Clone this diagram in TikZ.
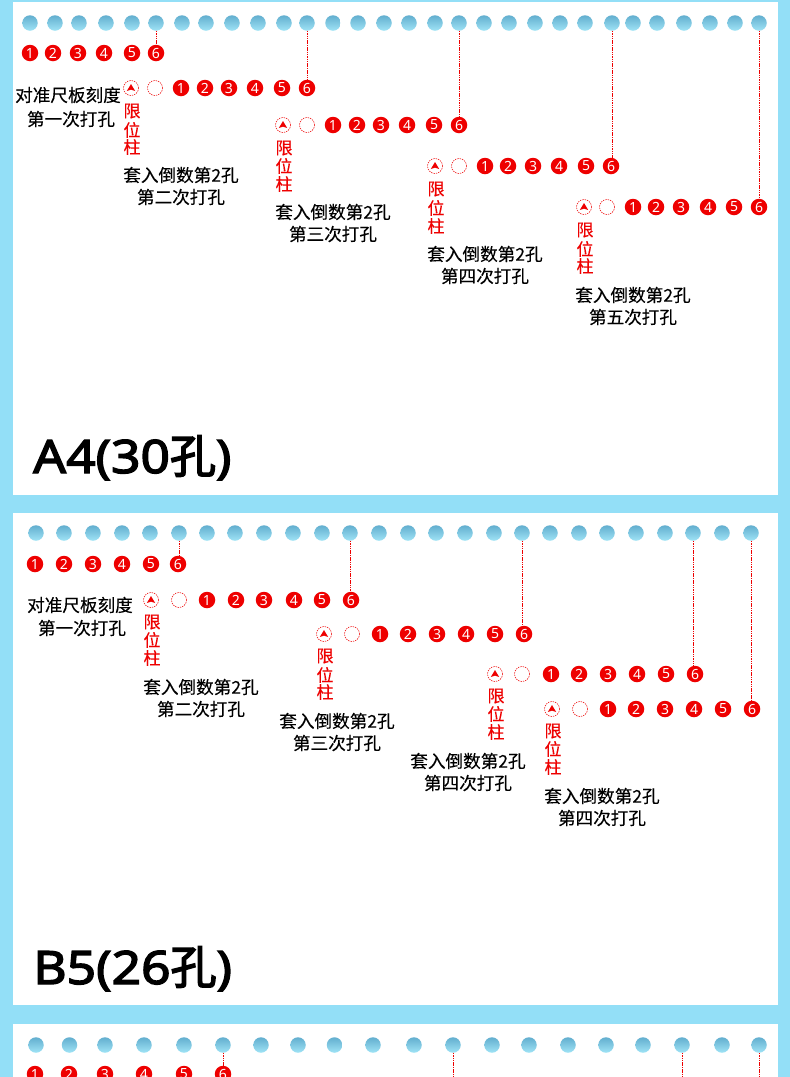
\documentclass[tikz,border=0pt]{standalone}
\usepackage{fontspec}
\setmainfont{Noto Sans CJK SC}
\newfontfamily\numfont{Noto Sans}
\newfontfamily\titlefont[FakeBold=3,FakeStretch=1.12]{Noto Sans}
\newfontfamily\titlecjk[FakeBold=3]{Noto Sans CJK SC}
\newfontfamily\labfont[FakeBold=0.25]{Noto Sans CJK SC}
\definecolor{bgblue}{HTML}{93DFF7}
\definecolor{markred}{HTML}{EE0000}
\definecolor{holetop}{HTML}{62AECF}
\definecolor{holebot}{HTML}{A0E4F6}
\tikzset{
  panel/.style={fill=white,draw=none},
  hole/.style={circle,draw=none,minimum size=15.5pt,inner sep=0pt,top color=holetop,bottom color=holebot},
  numdot/.style={circle,fill=markred,draw=none,minimum size=16.5pt,inner sep=0pt,text=white,font=\numfont\bfseries\fontsize{14}{14}\selectfont},
  ring/.style={circle,draw=markred,dash pattern=on 1.4pt off 1pt,line width=0.55pt,fill=white,minimum size=15pt,inner sep=0pt},
  leader/.style={draw=markred,line width=0.8pt,dash pattern=on 1.5pt off 0.8pt},
  lab/.style={text=black,font=\labfont\fontsize{17.6}{17.6}\selectfont,inner sep=0pt},
  lim/.style={text=markred,font=\labfont\fontsize{17}{17}\selectfont,inner sep=0pt},
  bigt/.style={text=black,font=\titlefont\fontsize{46}{46}\selectfont,inner sep=0pt,anchor=base west}
}
\newcommand{\holerow}[3]{\foreach \hx [count=\hi] in {#3}{\node[hole] (#1-\hi) at (\hx,#2) {};}}
\newcommand{\numrow}[3]{\foreach \nx [count=\ni] in {#3}{\node[numdot] (#1-\ni) at (\nx,#2) {\ni};}}
\newcommand{\markers}[3]{%
  \node[ring] (#1-m) at (#2,#3) {};
  \fill[markred] ([shift={(0,-4)}]#1-m.center) -- ([shift={(4.2,3)}]#1-m.center) -- ([shift={(0,1.6)}]#1-m.center) -- ([shift={(-4.2,3)}]#1-m.center) -- cycle;}
\newcommand{\stepset}[9]{%
  \markers{#1}{#2}{#4}
  \node[ring] (#1-r) at (#3,#4) {};
  \node[lim] (#1-l1) at (#2+1,#5) {限};
  \node[lim] (#1-l2) at (#2+1,#6) {位};
  \node[lim] (#1-l3) at (#2+1,#7) {柱};
  \node[lab] (#1-t1) at (#8,#9) {套入倒数第2孔};}
\newcommand{\leaderto}[2]{\draw[leader] (#1) -- (#1 |- #2.north);}
\begin{document}
\begin{tikzpicture}[x=1pt,y=-1pt]
\useasboundingbox (0,0) rectangle (790,1077);
\fill[bgblue] (0,0) rectangle (790,1077);
\fill[panel] (13,2) rectangle (778,495);
\fill[panel] (13,513) rectangle (778,1005);
\fill[panel] (13,1024) rectangle (778,1077);

% ---------- A4
\holerow{a}{23}{30,55,79,106,132,156,182,206,232,258,284,307,333,358,384,409,435,459,484,509,535,560,585,612,633,657,684,710,735,759}
\numrow{a0}{53}{30,53,78,104,132,156}
\node[lab] (a0t1) at (68,95) {对准尺板刻度};
\node[lab] (a0t2) at (71,119) {第一次打孔};
\stepset{a1}{131}{155}{88}{111}{130}{147}{181}{175}
\numrow{a1}{88}{181,205,229,255,282,307}
\node[lab] (a1t2) at (181,197) {第二次打孔};
\stepset{a2}{283}{307}{125}{148}{166}{184}{333}{212}
\numrow{a2}{125}{333,357,381,407,434,459}
\node[lab] (a2t2) at (333,234) {第三次打孔};
\stepset{a3}{435}{459}{166}{189}{208}{226}{485}{254}
\numrow{a3}{166}{485,508,533,559,586,611}
\node[lab] (a3t2) at (485,276) {第四次打孔};
\stepset{a4}{584}{607}{207}{230}{249}{266}{633}{295}
\numrow{a4}{207}{633,656,681,708,734,759}
\node[lab] (a4t2) at (633,317) {第五次打孔};
\leaderto{a-6}{a0-6}
\leaderto{a-12}{a1-6}
\leaderto{a-18}{a2-6}
\leaderto{a-24}{a3-6}
\leaderto{a-30}{a4-6}
\node[bigt] (atitle) at (33,473) {A4(30{\titlecjk 孔})};

% ---------- B5
\holerow{b}{533}{36,64,93,122,150,179,207,235,264,293,322,350,379,408,436,465,494,522,550,579,607,636,665,693,722,751}
\numrow{b0}{564}{35,64,93,122,151,178}
\node[lab] (b0t1) at (80,605) {对准尺板刻度};
\node[lab] (b0t2) at (82,628) {第一次打孔};
\stepset{b1}{151}{179}{600}{622}{640}{658}{201}{687}
\numrow{b1}{600}{207,236,264,294,322,351}
\node[lab] (b1t2) at (201,709) {第二次打孔};
\stepset{b2}{324}{352}{634}{656}{675}{692}{337}{721}
\numrow{b2}{634}{380,408,437,466,495,524}
\node[lab] (b2t2) at (337,743) {第三次打孔};
\stepset{b3}{495}{522}{674}{696}{714}{732}{468}{761}
\numrow{b3}{674}{551,579,608,637,666,695}
\node[lab] (b3t2) at (468,783) {第四次打孔};
\stepset{b4}{552}{580}{709}{731}{749}{767}{602}{796}
\numrow{b4}{709}{608,636,665,694,723,752}
\node[lab] (b4t2) at (602,818) {第四次打孔};
\leaderto{b-6}{b0-6}
\leaderto{b-12}{b1-6}
\leaderto{b-18}{b2-6}
\leaderto{b-24}{b3-6}
\leaderto{b-26}{b4-6}
\node[bigt] (btitle) at (33,984) {B5(26{\titlecjk 孔})};

% ---------- third panel
\holerow{c}{1045}{36,69.5,105,144,184,223,261,298,334.5,373,414,453,492,529,568,606,643,682,722,759}
\numrow{c0}{1074}{35,69,105,144,184,223}
\coordinate (c2end) at (453,1077);
\coordinate (c3end) at (682,1077);
\coordinate (c4end) at (759,1077);
\leaderto{c-6}{c0-6}
\draw[leader] (c-12) -- (c2end);
\draw[leader] (c-18) -- (c3end);
\draw[leader] (c-20) -- (c4end);
\end{tikzpicture}
\end{document}
